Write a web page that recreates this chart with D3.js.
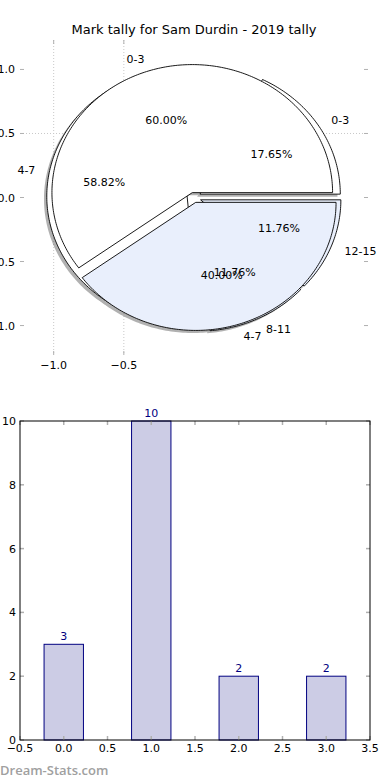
<!DOCTYPE html>
<html>
<meta charset="utf-8">
<head>
<script src="https://d3js.org/d3.v7.min.js"></script>
<style>
  body { margin: 0; background: #fff; }
  text { font-family: "DejaVu Sans", sans-serif; }
</style>
</head>
<body>
<div id="chart"></div>
<script>
// data
var categories = ["0-3", "4-7", "8-11", "12-15"];
var tally = [3, 10, 2, 2];
var splitLabels = ["0-3", "4-7"];
var splitValues = [60, 40];
var barPositions = [0, 1, 2, 3];
var pieTicksX = [-1.0, -0.5];
var pieTicksY = [1.0, 0.5, 0.0, -0.5, -1.0];
var barTicksX = [-0.5, 0.0, 0.5, 1.0, 1.5, 2.0, 2.5, 3.0, 3.5];
var barTicksY = [0, 2, 4, 6, 8, 10];

var W = 390, H = 780;
var tickGray = "#b0b0b0", blueFill = "#e9effc";
var fmt = function(v) { return d3.format(".1f")(v).replace("-", "\u2212"); };

var svg = d3.select("#chart").append("svg")
    .attr("width", W).attr("height", H);

// ---------- pie panel ----------
var px = d3.scaleLinear().domain([-1.24, 1.24]).range([20, 368]);
var py = d3.scaleLinear().domain([-1.23, 1.23]).range([355, 40]);

svg.append("text")
    .attr("x", 194).attr("y", 34)
    .attr("text-anchor", "middle")
    .style("font-size", "13px")
    .text("Mark tally for Sam Durdin - 2019 tally");

// grid (only what shows around the pie)
var grid = svg.append("g").attr("stroke", "#c8c8c8").attr("stroke-dasharray", "1,2");
grid.selectAll("line.v").data(pieTicksX).enter().append("line")
    .attr("x1", d => px(d)).attr("x2", d => px(d))
    .attr("y1", py.range()[1]).attr("y2", py.range()[0]);
grid.append("line")
    .attr("x1", px.range()[0]).attr("x2", px.range()[1])
    .attr("y1", py(0.5)).attr("y2", py(0.5));

// ticks
var tk = svg.append("g").attr("stroke", tickGray);
pieTicksX.forEach(function(v) {
  tk.append("line").attr("x1", px(v)).attr("x2", px(v)).attr("y1", 40).attr("y2", 44);
  tk.append("line").attr("x1", px(v)).attr("x2", px(v)).attr("y1", 351).attr("y2", 355);
});
pieTicksY.forEach(function(v) {
  tk.append("line").attr("x1", 20).attr("x2", 24).attr("y1", py(v)).attr("y2", py(v));
  tk.append("line").attr("x1", 364).attr("x2", 368).attr("y1", py(v)).attr("y2", py(v));
});
svg.append("g").selectAll("text").data(pieTicksX).enter().append("text")
    .attr("x", d => px(d)).attr("y", 369)
    .attr("text-anchor", "middle").style("font-size", "11px")
    .text(fmt);
svg.append("g").selectAll("text").data(pieTicksY).enter().append("text")
    .attr("x", 15).attr("y", d => py(d) + 4)
    .attr("text-anchor", "end").style("font-size", "11px")
    .text(fmt);

// wedges, matplotlib style (degrees counter-clockwise from +x)
var line = d3.line();
function wedge(a1, a2, ex, ox, oy) {
  var mid = (a1 + a2) / 2 * Math.PI / 180;
  var cx = ex * Math.cos(mid) + ox, cy = ex * Math.sin(mid) + oy;
  var pts = [[px(cx), py(cy)]];
  var n = Math.max(8, Math.ceil(a2 - a1));
  for (var i = 0; i <= n; i++) {
    var a = (a1 + (a2 - a1) * i / n) * Math.PI / 180;
    pts.push([px(cx + Math.cos(a)), py(cy + Math.sin(a))]);
  }
  return line(pts) + "Z";
}
function slices(values) {
  var tot = d3.sum(values), acc = 0;
  return values.map(function(v) {
    var s = { a1: acc / tot * 360, v: v, pct: v / tot * 100 };
    acc += v;
    s.a2 = acc / tot * 360;
    return s;
  });
}

var pieA = slices(tally), pieB = slices(splitValues);
var colorsA = ["white", "white", blueFill, blueFill];
var colorsB = ["white", blueFill];

// shadows
var sh = svg.append("g").attr("fill", "#555").attr("opacity", 0.45);
pieA.forEach(function(s) { sh.append("path").attr("d", wedge(s.a1, s.a2, 0.05, -0.02, -0.02)); });
pieB.forEach(function(s) { sh.append("path").attr("d", wedge(s.a1, s.a2, 0.04, -0.02, -0.02)); });

svg.append("g").selectAll("path").data(pieA).enter().append("path")
    .attr("d", s => wedge(s.a1, s.a2, 0.05, 0, 0))
    .attr("fill", (s, i) => colorsA[i])
    .attr("stroke", "#000").attr("stroke-width", 0.9);
svg.append("g").selectAll("path").data(pieB).enter().append("path")
    .attr("d", s => wedge(s.a1, s.a2, 0.04, 0, 0))
    .attr("fill", (s, i) => colorsB[i])
    .attr("stroke", "#000").attr("stroke-width", 0.9);

function pieText(data, names, ex) {
  var g = svg.append("g").style("font-size", "11px");
  data.forEach(function(s, i) {
    var m = (s.a1 + s.a2) / 2 * Math.PI / 180;
    var ox = ex * Math.cos(m), oy = ex * Math.sin(m);
    var lx = ox + 1.1 * Math.cos(m), ly = oy + 1.1 * Math.sin(m);
    g.append("text")
        .attr("x", px(lx)).attr("y", py(ly) + 4)
        .attr("text-anchor", lx > 0 ? "start" : "end")
        .text(names[i]);
    g.append("text")
        .attr("x", px(ox + 0.6 * Math.cos(m))).attr("y", py(oy + 0.6 * Math.sin(m)) + 4)
        .attr("text-anchor", "middle")
        .text(d3.format(".2f")(s.pct) + "%");
  });
}
pieText(pieA, categories, 0.05);
pieText(pieB, splitLabels, 0.04);

// ---------- bar panel ----------
var bx = d3.scaleLinear().domain([-0.5, 3.5]).range([20, 370]);
var by = d3.scaleLinear().domain([0, 10]).range([740, 421]);
var barW = 0.45;

svg.append("g").selectAll("rect").data(tally).enter().append("rect")
    .attr("x", (d, i) => bx(barPositions[i] - barW / 2))
    .attr("width", bx(barW) - bx(0))
    .attr("y", d => by(d))
    .attr("height", d => by(0) - by(d))
    .attr("fill", "#ccccE5").attr("stroke", "#000080").attr("stroke-width", 1);

svg.append("g").selectAll("text").data(tally).enter().append("text")
    .attr("x", (d, i) => bx(barPositions[i]))
    .attr("y", d => by(d) - 4)
    .attr("text-anchor", "middle").attr("fill", "#000080")
    .style("font-size", "11px")
    .text(d => d);

var bt = svg.append("g").attr("stroke", tickGray).attr("stroke-width", 1.5);
barTicksX.forEach(function(v) {
  bt.append("line").attr("x1", bx(v)).attr("x2", bx(v)).attr("y1", 421).attr("y2", 425);
  bt.append("line").attr("x1", bx(v)).attr("x2", bx(v)).attr("y1", 736).attr("y2", 740);
});
barTicksY.forEach(function(v) {
  bt.append("line").attr("x1", 20).attr("x2", 24).attr("y1", by(v)).attr("y2", by(v));
  bt.append("line").attr("x1", 366).attr("x2", 370).attr("y1", by(v)).attr("y2", by(v));
});

svg.append("rect")
    .attr("x", 20).attr("y", 421).attr("width", 350).attr("height", 319)
    .attr("fill", "none").attr("stroke", "#000").attr("stroke-width", 1);

svg.append("g").selectAll("text").data(barTicksX).enter().append("text")
    .attr("x", d => bx(d)).attr("y", 752)
    .attr("text-anchor", "middle").style("font-size", "11px")
    .text(fmt);
svg.append("g").selectAll("text").data(barTicksY).enter().append("text")
    .attr("x", 16).attr("y", d => by(d) + 4)
    .attr("text-anchor", "end").style("font-size", "11px")
    .text(d => d);

svg.append("text")
    .attr("x", 0).attr("y", 775)
    .attr("fill", "#a0a0a0")
    .style("font-family", "'Open Sans', sans-serif")
    .style("font-size", "13px").style("font-weight", "600")
    .text("Dream-Stats.com");
</script>
</body>
</html>
